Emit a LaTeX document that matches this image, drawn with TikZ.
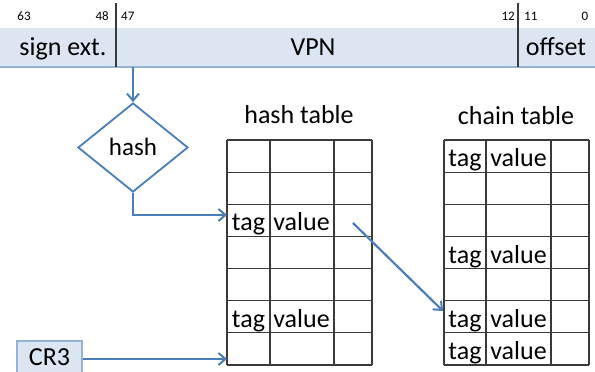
\documentclass[tikz,border=0pt]{standalone}
\usepackage{fontspec}
\setmainfont{Carlito}
\usetikzlibrary{arrows.meta,shapes.geometric}
\definecolor{arrowblue}{HTML}{4A7EBB}
\definecolor{barfill}{HTML}{DCE6F2}
\definecolor{barline}{HTML}{95B3D7}
\definecolor{gridc}{HTML}{3A3A3A}
\tikzset{
  txt/.style={inner sep=0pt, anchor=base, font=\fontsize{26}{30}\selectfont},
  bitnum/.style={inner sep=0pt, font=\fontsize{13}{15}\selectfont},
  conn/.style={draw=arrowblue, line width=2.2pt, -{Straight Barb[length=7pt,width=12pt,line width=2pt]}},
  gridline/.style={draw=gridc, line width=1.2pt},
}
\begin{document}
\begin{tikzpicture}[x=1pt,y=-1pt]
\useasboundingbox (0,0) rectangle (595,372);
% address bar
\fill[barfill] (0,28) rectangle (595,67);
\draw[barline, line width=1.4pt] (0,67) -- (595,67);
\draw[gridline] (116,3) -- (116,67) (518,3) -- (518,67);
\node[bitnum, anchor=base] (b63) at (24,20) {63};
\node[bitnum, anchor=base east] (b48) at (109,20) {48};
\node[bitnum, anchor=base west] (b47) at (121,20) {47};
\node[bitnum, anchor=base east] (b12) at (515,20) {12};
\node[bitnum, anchor=base west] (b11) at (524,20) {11};
\node[bitnum, anchor=base] (b0) at (585,20) {0};
\node[txt] (sign) at (63,56) {sign ext.};
\node[txt] (vpn) at (313,56) {VPN};
\node[txt] (off) at (556,56) {offset};
\coordinate (vpnout) at (133,67);
% hash
\node[diamond, draw=arrowblue, line width=1.8pt, fill=white, minimum width=110pt, minimum height=89pt, inner sep=0pt] (hash) at (133,147.5) {};
\node[txt, font=\fontsize{25}{29}\selectfont] (hashlbl) at (133,155) {hash};
% tables
\node[txt] (httitle) at (299,123.5) {hash table};
\node[txt] (cttitle) at (516,124) {chain table};
\foreach \y in {0,...,7} {
  \draw[gridline] (227,140+\y*32.14) -- (372,140+\y*32.14);
  \draw[gridline] (444,140+\y*32.14) -- (589,140+\y*32.14);
}
\foreach \x in {227,270,334,372,444,486,551,589} {
  \draw[gridline] (\x,140) -- (\x,365);
}
% hash table entries
\node[txt] (ht3t) at (248.5,230.8) {tag};
\node[txt] (ht3v) at (301.5,230.8) {value};
\node[txt] (ht6t) at (248.5,327.2) {tag};
\node[txt] (ht6v) at (301.5,327.2) {value};
% chain table entries
\node[txt] (ct1t) at (465,166.5) {tag};
\node[txt] (ct1v) at (518.5,166.5) {value};
\node[txt] (ct4t) at (465,263) {tag};
\node[txt] (ct4v) at (518.5,263) {value};
\node[txt] (ct6t) at (465,327.2) {tag};
\node[txt] (ct6v) at (518.5,327.2) {value};
\node[txt] (ct7t) at (465,359.3) {tag};
\node[txt] (ct7v) at (518.5,359.3) {value};
% CR3
\node[draw=barline, fill=barfill, line width=1.4pt, minimum width=65pt, minimum height=38pt, inner sep=0pt] (cr3) at (49.5,360) {};
\node[txt] (cr3lbl) at (49.5,365) {CR3};
% connector points
\coordinate (htin) at (227,215);
\coordinate (ptrsrc) at (353,223);
\coordinate (ctin) at (443,311);
\coordinate (htbot) at (227,359);
% connectors
\draw[conn] (vpnout) -- (hash.north);
\draw[conn] (hash.south) |- (htin);
\draw[conn] (ptrsrc) -- (ctin);
\draw[conn] (cr3.east |- htbot) -- (htbot);
\end{tikzpicture}
\end{document}
